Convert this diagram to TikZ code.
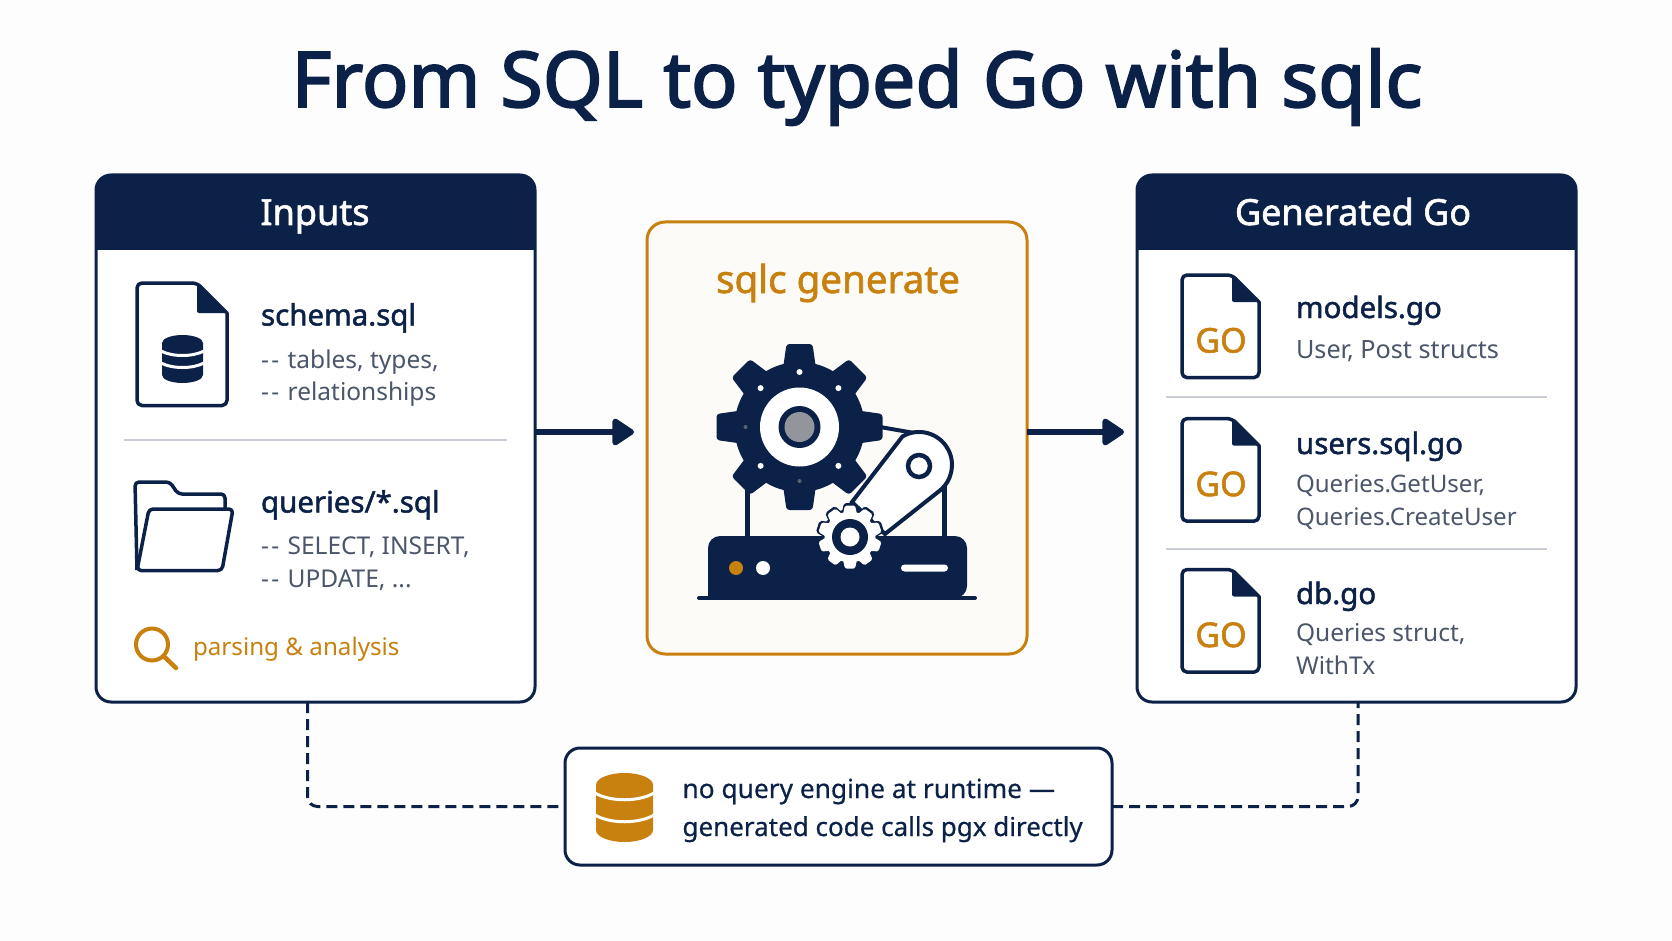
\documentclass[tikz,border=0pt]{standalone}
\usepackage{fontspec}
\setmainfont{Noto Sans}
\newfontfamily\semifont{Noto Sans}[FakeBold=1.6]
\newfontfamily\heavyfont{Noto Sans}[FakeBold=2.4]
\newfontfamily\medfont{Noto Sans}[FakeBold=0.5]
\usetikzlibrary{arrows.meta,calc}
\definecolor{navy}{HTML}{0C2147}
\definecolor{amber}{HTML}{C8800E}
\definecolor{slate}{HTML}{4B566B}
\definecolor{rulegray}{HTML}{C9CDD6}
\definecolor{paper}{HTML}{FDFDFD}
\definecolor{cream}{HTML}{FDFBF8}
\newcommand{\dd}{-\kern2.5pt-\kern2pt}
\tikzset{
  panel/.style={draw=navy,line width=3pt,fill=white,rounded corners=15pt,inner sep=0pt,outer sep=0pt},
  genbox/.style={draw=amber,line width=3pt,fill=cream,rounded corners=18pt,inner sep=0pt,outer sep=0pt},
  lbl/.style={anchor=base west,inner sep=0pt,outer sep=0pt,align=left},
  headtxt/.style={anchor=base,inner sep=0pt,text=white,font=\semifont\fontsize{36}{40}\selectfont},
  itemname/.style={lbl,text=navy,font=\semifont\fontsize{29.5}{34}\selectfont},
  itemdesc/.style={lbl,text=slate,font=\fontsize{24.5}{30}\selectfont},
  flow/.style={draw=navy,line width=5.5pt,-{Triangle[length=24pt,width=30pt,round]}},
  dashline/.style={draw=navy,line width=3pt,dash pattern=on 11pt off 6pt,rounded corners=10pt},
  divider/.style={draw=rulegray,line width=2pt},
  iconline/.style={draw=navy,line width=3.5pt,rounded corners=5pt,line join=round},
}
\newcommand{\filebody}[5]{% x0 x1 top bottom foldsize
  \draw[iconline,fill=white] (#1,#3) -- ({#2-#5},#3) [sharp corners] -- (#2,{#3+#5}) [rounded corners=5pt] -- (#2,#4) -- (#1,#4) -- cycle;
  \fill[navy,rounded corners=2pt] ({#2-#5},#3) -- (#2,{#3+#5}) -- ({#2-#5},{#3+#5}) -- cycle;
}
\newcommand{\gofile}[2]{% name, top
  \filebody{1182}{1259}{#2}{#2+102.6}{27}
  \node[anchor=base,inner sep=0pt,text=amber,font=\semifont\fontsize{34}{40}\selectfont] (#1) at (1221,#2+77.5) {GO};
}
\newcommand{\dbstack}[8]{% cx rx top bottom ry y1 y2 colour
  \fill[#8] ({#1-#2},{#3+#5}) arc[start angle=180,end angle=360,x radius=#2,y radius=#5] -- ({#1+#2},{#4-#5}) arc[start angle=0,end angle=180,x radius=#2,y radius=#5] -- cycle;
  \foreach \yy in {#6,#7}{
    \draw[white,line width=3pt] ({#1-#2-1},\yy) .. controls ({#1-#2*0.5},{\yy+#5*0.75}) and ({#1+#2*0.5},{\yy+#5*0.75}) .. ({#1+#2+1},\yy);
  }
}
\begin{document}
\begin{tikzpicture}[x=1pt,y=-1pt]
\useasboundingbox (0,0) rectangle (1672,941);
\fill[paper] (0,0) rectangle (1672,941);

\node[anchor=base,inner sep=0pt,text=navy,font=\heavyfont\fontsize{77}{80}\selectfont] (title) at (857,107) {From SQL to typed Go with sqlc};

% panels
\node[panel,minimum width=439pt,minimum height=527pt] (inputs) at (315.5,438.5) {};
\node[panel,minimum width=439pt,minimum height=527pt] (outputs) at (1356.5,438.5) {};
\node[genbox,minimum width=380pt,minimum height=432pt] (gen) at (837,438) {};
\node[panel,minimum width=547pt,minimum height=117pt] (note) at (838.5,806.5) {};

% connectors
\coordinate (dl) at (307.5,702);
\coordinate (dr) at (1358,702);
\draw[flow] (inputs.east |- 0,432) -- ([xshift=-13pt]gen.west |- 0,432);
\draw[flow] (gen.east |- 0,432) -- ([xshift=-13pt]outputs.west |- 0,432);
\draw[dashline] (dl) |- (note.west);
\draw[dashline] (note.east) -| (dr);

% headers
\fill[navy] (96,250) [rounded corners=15pt] -- (96,175) -- (535,175) [sharp corners] -- (535,250) -- cycle;
\fill[navy] (1137,250) [rounded corners=15pt] -- (1137,175) -- (1576,175) [sharp corners] -- (1576,250) -- cycle;
\node[headtxt] (hinputs) at (315,225) {Inputs};
\node[headtxt] (houtputs) at (1353,225) {Generated Go};

% inputs content
\filebody{137}{227}{283}{405.5}{30}
\dbstack{182.5}{20.5}{335}{383}{8}{351}{363}{navy}
\node[itemname] (schema) at (261,325.5) {schema.sql};
\node[itemdesc] (schema1) at (261,368) {\dd{} tables, types,};
\node[itemdesc] (schema2) at (261,400) {\dd{} relationships};
\draw[divider] (124,440) -- (507,440);
\draw[iconline,rounded corners=4pt] (137,570) -- (135,482) -- (170,482) -- (178,494) -- (225,494) -- (225,509);
\draw[iconline,fill=white,rounded corners=4pt] (149,509) -- (233,509) -- (222,570.5) -- (137,570.5) -- cycle;
\node[itemname] (queries) at (261,512.5) {queries/*.sql};
\node[itemdesc] (queries1) at (261,554) {\dd{} SELECT, INSERT,};
\node[itemdesc] (queries2) at (261,587) {\dd{} UPDATE, ...};
\draw[amber,line width=4pt] (152,644.5) circle[radius=16];
\draw[amber,line width=4.5pt,line cap=round] (163.5,656) -- (176,668);
\node[lbl,text=amber,font=\fontsize{24.2}{30}\selectfont] (parsing) at (193,655.5) {parsing \& analysis};

% generated content
\gofile{go1}{275}
\gofile{go2}{418.6}
\gofile{go3}{569.5}
\node[itemname] (models) at (1296,318) {models.go};
\node[itemdesc,font=\fontsize{25.2}{30}\selectfont] (models1) at (1296,358.7) {User, Post structs};
\draw[divider] (1166,397) -- (1547,397);
\node[itemname] (users) at (1296,454) {users.sql.go};
\node[itemdesc,font=\fontsize{24.1}{30}\selectfont] (users1) at (1296,492) {Queries.GetUser,};
\node[itemdesc,font=\fontsize{24.1}{30}\selectfont] (users2) at (1296,525.4) {Queries.CreateUser};
\draw[divider] (1166,549) -- (1547,549);
\node[itemname] (db) at (1296,604) {db.go};
\node[itemdesc] (db1) at (1296,641.8) {Queries struct,};
\node[itemdesc] (db2) at (1296,674.5) {WithTx};

% note content
\dbstack{624.5}{28.5}{773}{842}{12}{793}{815}{amber}
\node[lbl,text=navy,font=\medfont\fontsize{26.3}{32}\selectfont] (note1) at (682.5,798) {no query engine at runtime —};
\node[lbl,text=navy,font=\medfont\fontsize{26}{32}\selectfont] (note2) at (682.5,836) {generated code calls pgx directly};

% generator
\node[anchor=base,inner sep=0pt,text=amber,font=\semifont\fontsize{38.5}{42}\selectfont] (gentitle) at (838,293) {sqlc generate};
% supports
\draw[navy,line width=5pt] (747,480) -- (747,540);
\draw[navy,line width=5pt] (944,480) -- (944,540);
% base
\fill[navy,rounded corners=12pt] (708,598) -- (708,536) -- (967,536) -- (967,598) [sharp corners] -- cycle;
\draw[navy,line width=4pt,line cap=round] (699,598) -- (975,598);
\fill[amber] (736,568) circle[radius=7];
\fill[white] (763,568) circle[radius=7];
\fill[white,rounded corners=3.5pt] (901,564.5) rectangle (948,571.5);
% large gear
\fill[navy] (799.5,427) circle[radius=65];
\foreach \a in {0,45,...,315}{
  \fill[navy,rounded corners=3pt,rotate around={\a:(799.5,427)}] (782.5,372) -- (786.5,344) -- (812.5,344) -- (816.5,372) -- cycle;
}
\fill[white] (799.5,427) circle[radius=39.5];
\fill[navy] (799.5,427) circle[radius=21];
\fill[gray!75!navy!70!white] (799.5,427) circle[radius=15];
\foreach \a in {-90,-45,45,135,-135}{
  \fill[white] ($(799.5,427)+(\a:55)$) circle[radius=3];
}
\foreach \a in {90,180}{
  \fill[gray!70!navy] ($(799.5,427)+(\a:54)$) circle[radius=2];
}
% belt and arm
\draw[navy,line width=4pt] (880,427) -- (920,434);
\draw[navy,line width=4pt,fill=white] (852,502) -- (902.5,436.4) arc[start angle=240,end angle=413,radius=33] -- (885,534) -- cycle;
\draw[navy,line width=4.5pt,fill=white] (919,466) circle[radius=11];
% small gear
\foreach \a in {0,36,...,324}{
  \fill[navy,rounded corners=2pt,rotate around={\a:(850,537)}] (842,512) -- (844,503) -- (856,503) -- (858,512) -- cycle;
}
\fill[navy] (850,537) circle[radius=28];
\fill[white] (850,537) circle[radius=25.5];
\foreach \a in {0,36,...,324}{
  \fill[white,rounded corners=1.5pt,rotate around={\a:(850,537)}] (843,514) -- (845,505.5) -- (855,505.5) -- (857,514) -- cycle;
}
\fill[navy] (850,537) circle[radius=18];
\fill[white] (850,537) circle[radius=9.5];
\end{tikzpicture}
\end{document}
